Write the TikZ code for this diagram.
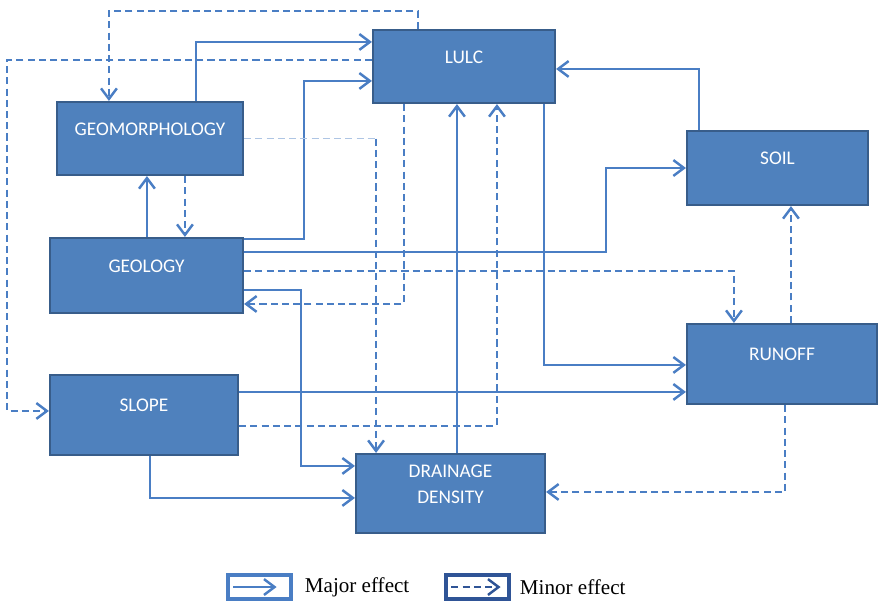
\documentclass[tikz,border=0pt]{standalone}
\usepackage{fontspec}
\setmainfont{Liberation Serif}
\setsansfont{Carlito}
\usetikzlibrary{arrows.meta,calc,positioning}

\definecolor{boxfill}{RGB}{79,129,189}
\definecolor{boxline}{RGB}{56,93,138}
\definecolor{linkblue}{RGB}{74,126,196}
\definecolor{keyline}{RGB}{47,84,150}

\begin{document}
\begin{tikzpicture}[x=0.02cm, y=-0.02cm,
    box/.style={rectangle, draw=boxline, fill=boxfill, line width=1.2pt, inner sep=0pt},
    boxtext/.style={text=white, font=\sffamily\fontsize{11}{15}\selectfont, align=center, yshift=5.3pt},
    major/.style={draw=linkblue, line width=1.4pt, -{Straight Barb[length=6pt,width=9pt]}},
    minor/.style={major, dash pattern=on 4pt off 2.4pt},
    faint/.style={draw=linkblue!45, line width=1pt, dash pattern=on 4pt off 2.4pt},
    keybox/.style={rectangle, draw=#1, fill=white, line width=1.8pt, minimum width=1.26cm, minimum height=0.48cm},
    keytext/.style={font=\fontsize{12}{14}\selectfont, inner sep=0pt}]

\useasboundingbox (0,0) rectangle (878,600);

% Create the seven boxes: name / centre x / centre y / width / height / label
\foreach \n/\x/\y/\w/\h/\txt in {
    lulc/464/66.5/182/73/LULC,
    geomorph/150/138.5/186/73/GEOMORPHOLOGY,
    geology/146.5/275.5/193/75/GEOLOGY,
    slope/144/415/188/80/SLOPE,
    drainage/450.5/493.5/189/79/DRAINAGE\\DENSITY,
    soil/777.5/168/181/74/SOIL,
    runoff/782/364/190/80/RUNOFF} {
    \node[box, minimum width=\w*0.02cm, minimum height=\h*0.02cm,
          label={[boxtext]center:\txt}] (\n) at (\x,\y) {};
}

% major effects
\draw[major] ($(geomorph.north west)+(140,0)$) |- ($(lulc.north west)+(0,13)$);
\draw[major] ($(geology.north east)+(0,2)$) -- ++(60,0) |- ($(lulc.north west)+(0,52)$);
\draw[major] ($(geology.north west)+(98,0)$) -- ($(geomorph.south west)+(91,0)$);
\draw[major] ($(drainage.north west)+(102,0)$) -- ($(lulc.south west)+(85,0)$);
\draw[major] ($(lulc.south west)+(172,0)$) |- ($(runoff.north west)+(0,42)$);
\draw[major] ($(soil.north west)+(13,0)$) |- ($(lulc.north east)+(0,40)$);
\draw[major] ($(geology.north east)+(0,15)$) -- ++(362,0) |- (soil.west);
\draw[major] ($(geology.north east)+(0,53)$) -- ++(57,0) |- ($(drainage.north west)+(0,13)$);
\draw[major] ($(slope.north east)+(0,18)$) -- ($(runoff.north west)+(0,69)$);
\draw[major] ($(slope.south west)+(101,0)$) |- ($(drainage.north west)+(0,45)$);

% minor effects
\draw[minor] ($(lulc.north west)+(46,0)$) -- ++(0,-18) -| ($(geomorph.north west)+(53,0)$);
\draw[minor] ($(lulc.north west)+(0,31)$) -- ++(-365,0) |- ($(slope.north west)+(0,37)$);
\draw[minor] ($(geomorph.south west)+(129,0)$) -- ($(geology.north west)+(136,0)$);
\draw[faint] (geomorph.east) -- ++(132,0) coordinate (gdbend);
\draw[minor] (gdbend) -- (gdbend |- drainage.north);
\draw[minor] ($(lulc.south west)+(32,0)$) |- ($(geology.north east)+(0,67)$);
\draw[minor] ($(slope.north east)+(0,52)$) -| ($(lulc.south west)+(125,0)$);
\draw[minor] ($(geology.north east)+(0,34)$) -| ($(runoff.north west)+(48,0)$);
\draw[minor] ($(runoff.south west)+(99,0)$) |- ($(drainage.north east)+(0,39)$);
\draw[minor] ($(runoff.north west)+(105,0)$) -- ($(soil.south west)+(105,0)$);

% and the key
\node[keybox=linkblue] (majorkey) at (259.5,587) {};
\node[keytext, right=0.24cm of majorkey] (majortext) {Major effect};
\node[keybox=keyline] (minorkey) at (477.5,587) {};
\node[keytext, right=0.18cm of minorkey] (minortext) {Minor effect};
\draw[major] ($(majorkey.west)+(7,0)$) -- ($(majorkey.east)+(-16,0)$);
\draw[minor, draw=keyline] ($(minorkey.west)+(7,0)$) -- ($(minorkey.east)+(-10,0)$);
\end{tikzpicture}
\end{document}
